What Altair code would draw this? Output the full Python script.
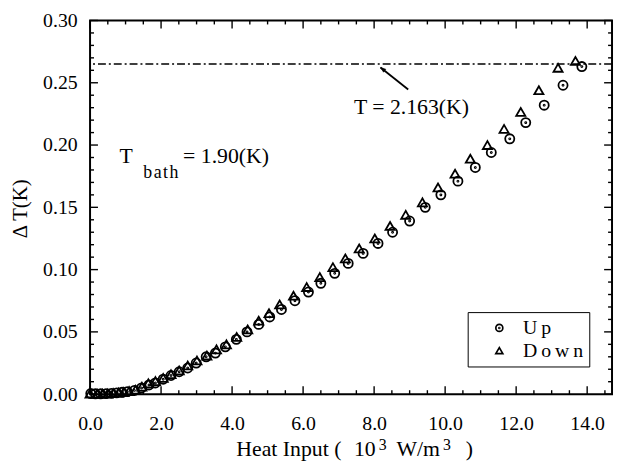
import altair as alt
import pandas as pd

# ---- data ----
x_up = [0.02, 0.15, 0.30, 0.45, 0.60, 0.75, 0.90, 1.05, 1.25, 1.45, 1.66, 1.84, 2.06, 2.28,
        2.51, 2.75, 2.99, 3.27, 3.53, 3.81, 4.12, 4.42, 4.75, 5.06, 5.39, 5.77, 6.15, 6.50,
        6.89, 7.27, 7.69, 8.11, 8.52, 9.00, 9.44, 9.88, 10.36, 10.85, 11.30, 11.82, 12.27,
        12.79, 13.32, 13.85]
y_up = [0.0005, 0.0003, 0.0003, 0.0004, 0.0006, 0.0010, 0.0015, 0.0020, 0.0030, 0.0050,
        0.0074, 0.0090, 0.0120, 0.0150, 0.0180, 0.0210, 0.0250, 0.0300, 0.0330, 0.0380,
        0.0440, 0.0500, 0.0560, 0.0620, 0.0680, 0.0750, 0.0820, 0.0890, 0.0970, 0.1050,
        0.1130, 0.1210, 0.1300, 0.1390, 0.1500, 0.1600, 0.1710, 0.1820, 0.1940, 0.2050,
        0.2180, 0.2320, 0.2480, 0.2630]
x_down = [0.00, 0.20, 0.35, 0.50, 0.65, 0.80, 0.95, 1.10, 1.28, 1.46, 1.64, 1.84, 2.06, 2.28,
          2.51, 2.75, 3.01, 3.29, 3.56, 3.84, 4.13, 4.44, 4.75, 5.04, 5.34, 5.73, 6.10, 6.47,
          6.84, 7.19, 7.58, 8.02, 8.45, 8.89, 9.36, 9.80, 10.28, 10.71, 11.19, 11.66, 12.13,
          12.64, 13.18, 13.67]
y_down = [0.0005, 0.0004, 0.0004, 0.0006, 0.0009, 0.0013, 0.0018, 0.0025, 0.0035, 0.0060,
          0.0087, 0.0105, 0.0130, 0.0160, 0.0190, 0.0230, 0.0270, 0.0310, 0.0360, 0.0400,
          0.0460, 0.0520, 0.0590, 0.0650, 0.0720, 0.0790, 0.0860, 0.0940, 0.1020, 0.1090,
          0.1170, 0.1250, 0.1350, 0.1440, 0.1540, 0.1660, 0.1770, 0.1890, 0.2000, 0.2130,
          0.2266, 0.2440, 0.2620, 0.2675]
series = ["Up", "Down"]

x_major = [0, 2, 4, 6, 8, 10, 12, 14]
x_minor = [0.5, 1, 1.5, 2.5, 3, 3.5, 4.5, 5, 5.5, 6.5, 7, 7.5, 8.5, 9, 9.5, 10.5, 11, 11.5,
           12.5, 13, 13.5, 14.5]
y_major = [0.0, 0.05, 0.10, 0.15, 0.20, 0.25, 0.30]
y_minor = [0.01, 0.02, 0.03, 0.04, 0.06, 0.07, 0.08, 0.09, 0.11, 0.12, 0.13, 0.14, 0.16,
           0.17, 0.18, 0.19, 0.21, 0.22, 0.23, 0.24, 0.26, 0.27, 0.28, 0.29]

lambda_dT = [0.265]
arrow_x = [8.96]
arrow_y = [0.2446]
arrow_x2 = [8.18]
arrow_y2 = [0.2623]

ann_text = ["T = 2.163(K)", "T", "= 1.90(K)"]
ann_x = [7.43, 0.83, 2.62]
ann_y = [0.2250, 0.1853, 0.1853]
sub_text = ["b\u200aa\u200at\u200ah"]
sub_x = [1.50]
sub_y = [0.1734]

# x-axis title pieces
xtitle_parts = ["Heat Input (", "10", "3", "W/m", "3", ")"]
xtitle_super = [False, False, True, False, True, False]
xtitle_left = [148, 267, 292, 310, 357, 380]   # pixel offsets from plot's left edge

# ---- geometry ----
W, H = 528, 378
XMAX = 14.7
FONT = "Liberation Serif"
CIRCLE_DOT = ("M-1,0A1,1 0 1,0 1,0A1,1 0 1,0 -1,0Z"
              "M-0.12,0A0.12,0.12 0 1,0 0.12,0A0.12,0.12 0 1,0 -0.12,0Z")

xscale = alt.Scale(domain=[0, XMAX], nice=False, zero=False)
yscale = alt.Scale(domain=[0, 0.30], nice=False, zero=False)

X_ENC = alt.X("x:Q", scale=xscale, axis=alt.Axis(
    values=x_major, format=".1f", ticks=False, tickSize=0, domain=False, grid=False,
    labelFont=FONT, labelFontSize=20, labelColor="black", labelPadding=20, labelFlush=False,
    title=None))
Y_ENC = alt.Y("y:Q", scale=yscale, axis=alt.Axis(
    values=y_major, format=".2f", ticks=False, tickSize=0, domain=False, grid=False,
    labelFont=FONT, labelFontSize=20, labelColor="black", labelPadding=13,
    title="Δ  T(K)", titleFont=FONT, titleFontSize=21, titleFontWeight="normal",
    titleColor="black", titleAngle=270, titleX=-70, titleY=190,
    titleBaseline="middle", titleAlign="center"))

df = pd.DataFrame({
    "x": x_up + x_down,
    "y": y_up + y_down,
    "dir": [series[0]] * len(x_up) + [series[1]] * len(x_down),
})

points = alt.Chart(df).mark_point(
    filled=False, stroke="black", strokeWidth=1.8, size=85, opacity=1
).encode(
    x=X_ENC, y=Y_ENC,
    shape=alt.Shape("dir:N", scale=alt.Scale(domain=series, range=[CIRCLE_DOT, "triangle-up"]),
                    legend=alt.Legend(
                        title=None, orient="none", legendX=382, legendY=295,
                        strokeColor="black", fillColor="white", padding=6,
                        symbolOffset=16, labelOffset=14, labelFont=FONT, labelFontSize=20,
                        labelColor="black", symbolSize=50, symbolStrokeWidth=1.7,
                        symbolStrokeColor="black", rowPadding=3,
                        labelExpr="datum.label == 'Up' ? 'U\u2009p' : 'D\u2009o\u2009w\u2009n'")),
)

# inward ticks on all four sides
def xticks(vals, length):
    d = pd.DataFrame({"x": vals})
    bot = alt.Chart(d).mark_rule(stroke="black", strokeWidth=1.4).encode(
        x=X_ENC, y=alt.value(H), y2=alt.value(H - length))
    top = alt.Chart(d).mark_rule(stroke="black", strokeWidth=1.4).encode(
        x=X_ENC, y=alt.value(0), y2=alt.value(length))
    return [bot, top]

def yticks(vals, length):
    d = pd.DataFrame({"y": vals})
    left = alt.Chart(d).mark_rule(stroke="black", strokeWidth=1.4).encode(
        y=Y_ENC, x=alt.value(0), x2=alt.value(length))
    right = alt.Chart(d).mark_rule(stroke="black", strokeWidth=1.4).encode(
        y=Y_ENC, x=alt.value(W), x2=alt.value(W - length))
    return [left, right]

tick_layers = xticks(x_major, 8) + xticks(x_minor, 4) + yticks(y_major, 8) + yticks(y_minor, 4)

lam = alt.Chart(pd.DataFrame({"y": lambda_dT})).mark_rule(
    stroke="black", strokeWidth=1.5, strokeDash=[8, 3, 2, 3]
).encode(y=Y_ENC)

arrow_df = pd.DataFrame({"x": arrow_x, "y": arrow_y, "x2": arrow_x2, "y2": arrow_y2})
arrow_line = alt.Chart(arrow_df).mark_rule(stroke="black", strokeWidth=1.8).encode(
    x=X_ENC, y=Y_ENC, x2="x2:Q", y2="y2:Q")
head_df = pd.DataFrame({"x": arrow_x2, "y": arrow_y2})
arrow_head = alt.Chart(head_df).mark_point(
    shape="M0,0L-0.6,1.7L0.6,1.7Z", filled=True, fill="black", stroke="black",
    strokeWidth=0.5, size=40, angle=308, opacity=1
).encode(x=X_ENC, y=Y_ENC)

ann = alt.Chart(pd.DataFrame({"x": ann_x, "y": ann_y, "t": ann_text})).mark_text(
    align="left", baseline="alphabetic", font=FONT, fontSize=22, color="black"
).encode(x=X_ENC, y=Y_ENC, text="t:N")
sub = alt.Chart(pd.DataFrame({"x": sub_x, "y": sub_y, "t": sub_text})).mark_text(
    align="left", baseline="alphabetic", font=FONT, fontSize=18, color="black"
).encode(x=X_ENC, y=Y_ENC, text="t:N")

title_layers = []
for txt, sup, left in zip(xtitle_parts, xtitle_super, xtitle_left):
    title_layers.append(
        alt.Chart(pd.DataFrame({"t": [txt]})).mark_text(
            align="left", baseline="alphabetic", font=FONT,
            fontSize=16 if sup else 22, color="black"
        ).encode(text="t:N", x=alt.value(left), y=alt.value(H + 56 if sup else H + 63))
    )

chart = alt.layer(
    lam, arrow_line, arrow_head, ann, sub, *tick_layers, *title_layers, points
).properties(
    width=W, height=H,
    autosize=alt.AutoSizeParams(type="none"),
    padding={"left": 83, "top": 10, "right": 2, "bottom": 67},
    background="white",
).configure_view(stroke="black", strokeWidth=2)

chart.save("out.html", embed_options={"renderer": "svg", "actions": False})
